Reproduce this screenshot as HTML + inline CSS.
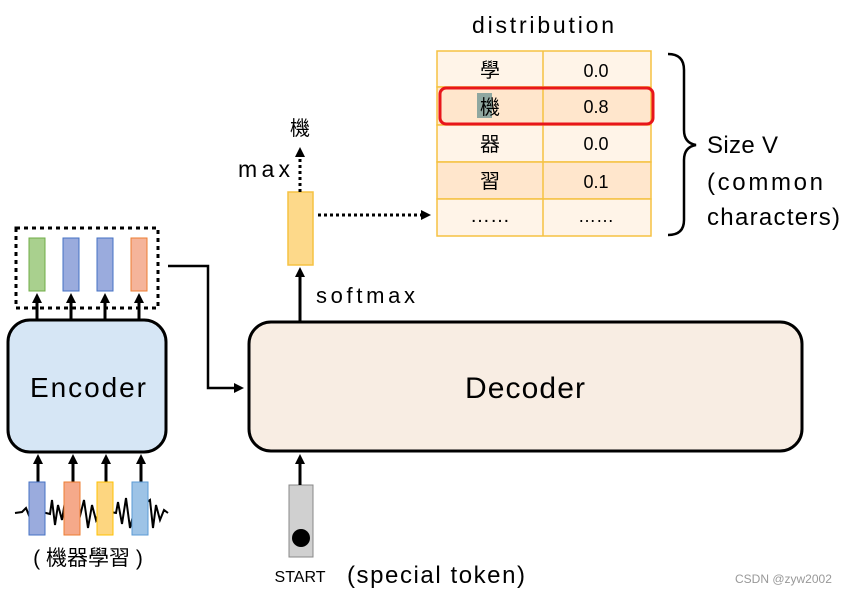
<!DOCTYPE html><html><head><style>body{margin:0;background:#fff}svg{display:block}text{font-family:"Liberation Sans","Noto Sans CJK TC",sans-serif}</style></head><body>
<svg width="846" height="595" viewBox="0 0 846 595" xmlns="http://www.w3.org/2000/svg">
<defs><marker id="a" markerWidth="10" markerHeight="10" refX="7" refY="5" orient="auto" markerUnits="userSpaceOnUse"><path d="M0,0L10,5L0,10z" fill="#000"/></marker></defs>
<text x="472" y="33" font-size="23" textLength="142">distribution</text>
<g stroke="#f5c242" stroke-width="1.5">
<rect x="437" y="51" width="214" height="36" fill="#fff4e8"/>
<rect x="437" y="87" width="214" height="38" fill="#ffe6cc"/>
<rect x="437" y="125" width="214" height="37" fill="#fff4e8"/>
<rect x="437" y="162" width="214" height="37" fill="#ffe6cc"/>
<rect x="437" y="199" width="214" height="37" fill="#fff4e8"/>
<line x1="543" y1="51" x2="543" y2="236"/></g>
<rect x="477" y="93" width="15" height="25" fill="#8fa7a0"/>
<g font-size="20" text-anchor="middle"><text x="490" y="77">學</text><text x="490" y="114">機</text><text x="490" y="151">器</text><text x="490" y="188">習</text><text x="490" y="222">……</text></g>
<g font-size="18" text-anchor="middle"><text x="596" y="77">0.0</text><text x="596" y="113">0.8</text><text x="596" y="150">0.0</text><text x="596" y="188">0.1</text><text x="596" y="222">……</text></g>
<rect x="440" y="88" width="213" height="36" rx="6" fill="none" stroke="#e8161b" stroke-width="3"/>
<path d="M668,54 Q684,54 684,70 L684,130 Q684,143 696,145 Q684,147 684,160 L684,220 Q684,235 668,235" fill="none" stroke="#000" stroke-width="2.5"/>
<g font-size="24"><text x="707" y="153" textLength="71">Size V</text><text x="707" y="190" textLength="116">(common</text><text x="707" y="225" textLength="133">characters)</text></g>
<rect x="288" y="192" width="25" height="73" fill="#fdd98a" stroke="#f5c242" stroke-width="1.5"/>
<line x1="300" y1="192" x2="300" y2="150" stroke="#000" stroke-width="3" stroke-dasharray="3,3" marker-end="url(#a)"/>
<text x="300" y="135" font-size="20" text-anchor="middle">機</text>
<text x="238" y="177" font-size="23" textLength="52">max</text>
<line x1="318" y1="215" x2="428" y2="215" stroke="#000" stroke-width="3" stroke-dasharray="3,3" marker-end="url(#a)"/>
<line x1="300" y1="322" x2="300" y2="270" stroke="#000" stroke-width="3" marker-end="url(#a)"/>
<text x="316" y="303" font-size="22" textLength="99">softmax</text>
<rect x="249" y="322" width="553" height="129" rx="22" fill="#f8ede3" stroke="#000" stroke-width="3"/>
<text x="465" y="398" font-size="30" textLength="120">Decoder</text>
<rect x="289" y="485" width="24" height="72" fill="#d0d0d0" stroke="#888"/>
<circle cx="301" cy="538" r="9" fill="#000"/>
<line x1="300" y1="485" x2="300" y2="457" stroke="#000" stroke-width="3" marker-end="url(#a)"/>
<text x="300" y="582" font-size="16" text-anchor="middle">START</text>
<text x="347" y="583" font-size="24" textLength="178">(special token)</text>
<rect x="16" y="228" width="142" height="80" fill="none" stroke="#000" stroke-width="3" stroke-dasharray="4,4"/>
<rect x="29" y="238" width="16" height="53" fill="#a9d08e" stroke="#70ad47"/>
<rect x="63" y="238" width="16" height="53" fill="#9aabdd" stroke="#4472c4"/>
<rect x="97" y="238" width="16" height="53" fill="#9aabdd" stroke="#4472c4"/>
<rect x="131" y="238" width="16" height="53" fill="#f5b49a" stroke="#ed7d31"/>
<g stroke="#000" stroke-width="3" marker-end="url(#a)"><line x1="37" y1="320" x2="37" y2="296"/><line x1="71" y1="320" x2="71" y2="296"/><line x1="105" y1="320" x2="105" y2="296"/><line x1="139" y1="320" x2="139" y2="296"/>
<line x1="38" y1="482" x2="38" y2="457"/><line x1="73" y1="482" x2="73" y2="457"/><line x1="106" y1="482" x2="106" y2="457"/><line x1="141" y1="482" x2="141" y2="457"/></g>
<polyline points="168,266 208,266 208,388 241,388" fill="none" stroke="#000" stroke-width="2.5" marker-end="url(#a)"/>
<rect x="8" y="320" width="158" height="132" rx="22" fill="#d6e6f5" stroke="#000" stroke-width="3"/>
<text x="30" y="397" font-size="28" textLength="116">Encoder</text>
<polyline points="15,513 22,512 26,508 30,518 34,510 50,514 52,500 55,525 58,505 62,520 66,495 70,530 74,508 80,516 84,500 88,528 92,505 96,520 100,510 116,513 118,502 122,524 126,498 130,528 134,512 150,500 153,528 156,505 160,520 164,510 168,513" fill="none" stroke="#000" stroke-width="2"/>
<rect x="29" y="482" width="16" height="53" fill="#9aabdd" stroke="#4472c4"/>
<rect x="64" y="482" width="16" height="53" fill="#f5a98a" stroke="#ed7d31"/>
<rect x="97" y="482" width="16" height="53" fill="#fdd680" stroke="#ffc000"/>
<rect x="132" y="482" width="16" height="53" fill="#9dc3e6" stroke="#5b9bd5"/>
<text x="88" y="565" font-size="21" text-anchor="middle">( 機器學習 )</text>
<text x="735" y="583" font-size="12" fill="#999">CSDN @zyw2002</text>
</svg></body></html>
